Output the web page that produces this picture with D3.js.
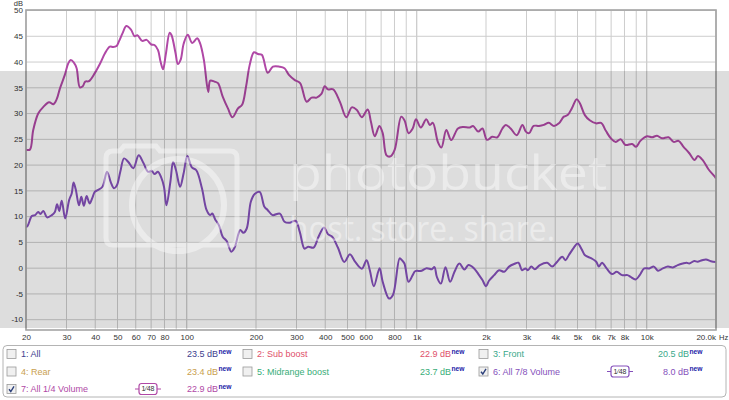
<!DOCTYPE html>
<html>
<head>
<meta charset="utf-8">
<script src="https://cdn.jsdelivr.net/npm/d3@7"></script>
<style>
body { margin: 0; background: #fff; }
svg { display: block; font-family: "Liberation Sans", Arial, sans-serif; }
</style>
</head>
<body>
<div class="viz"></div>
<script>
const width = 729;
const height = 400;

// curve 7: All 1/4 Volume  [Hz, dB]
const vol14 = [[20,23],[20.8,23],[21.5,26.8],[22.6,30],[23.8,31.3],[25.2,32.2],[26.3,31.8],[27.2,32.8],[28.1,34.9],[29.5,37.5],[30.5,39.7],[31.3,40.4],[32.3,39.9],[33.2,38.8],[34.3,35.1],[35.3,35.3],[36.2,36.2],[37.6,36.3],[39.9,37.9],[42,39.7],[44.1,41.7],[46.3,43],[47.9,42.9],[49.5,43.1],[50.7,44],[52.6,45.6],[54.6,47],[57.2,46.3],[59.3,45],[61,45.2],[64,44.1],[66.9,44.3],[70.1,43.4],[72.4,43.3],[75,42.3],[76.9,40.1],[78.9,38.6],[81,41.4],[84.3,45.7],[85.9,45.2],[89.4,41.7],[91.5,39.6],[94,40.4],[97,43.6],[101,45.3],[105.6,43.7],[111,44.6],[114.3,43.6],[118.7,40.4],[124,34.2],[126.5,36.4],[132,36.2],[136.7,35.9],[143.3,33.3],[151,31],[158,29.3],[167,31],[174,31.7],[181,35.2],[187.7,39.4],[196,41.9],[204,41.55],[212,41.4],[225,37.9],[237,39.1],[253,39.1],[266,38.8],[278,37.5],[295,36.5],[311,35.9],[332,32.3],[349,33.1],[367,33.1],[385,33.8],[398,35.3],[411,34.7],[433,34.7],[463,32.3],[494,29.3],[522,31.2],[549,30.7],[577,29.3],[612,30.8],[632,28.4],[657,25.6],[688,27.6],[711,26.2],[739,21.9],[769,21.7],[802,23],[856,29.4],[884,28.7],[922,26.2],[960,27.1],[992,28.9],[1042,27.3],[1100,28.9],[1140,27.8],[1175,28.2],[1235,24.5],[1280,23.4],[1344,26.8],[1412,24.85],[1510,27.1],[1590,27.4],[1700,27.3],[1757,27.6],[1850,26.5],[1930,27.1],[2020,24.9],[2128,25.5],[2240,25.4],[2357,27.1],[2440,27.8],[2560,27.1],[2720,25.8],[2880,27.8],[2980,26.5],[3080,26.2],[3220,27.6],[3400,27.6],[3570,27.8],[3750,28.2],[3950,27.6],[4150,28.1],[4360,29.4],[4530,29.7],[4720,31],[4960,32.8],[5120,32],[5380,29.7],[5650,28.7],[6020,28.1],[6330,28.2],[6650,26.6],[6980,25.2],[7330,24.5],[7700,25],[8080,23.9],[8630,24.1],[8980,23.55],[9380,24.7],[10030,25.6],[10540,25.4],[11080,25.7],[11640,25.2],[12440,25.4],[13080,24.5],[13750,24.7],[14450,23.55],[15310,22.3],[16150,21],[16690,21.75],[17480,21],[18540,19.2],[19800,17.7],[20000,17.4]];

// curve 6: All 7/8 Volume  [Hz, dB]
const vol78 = [[20,8],[20.3,8.15],[21.2,10.1],[21.9,10.3],[22.6,10.9],[23.1,10.5],[23.8,11.1],[24.7,9.85],[25.9,10.3],[26.7,10.9],[27.3,12.4],[27.9,11.1],[28.6,13.1],[29.6,9.65],[30.8,13.2],[31.6,14.5],[32.2,16.6],[32.9,15.3],[34,12.2],[34.8,13.85],[35.7,12.1],[36.7,14],[37.8,12.55],[38.9,13.7],[39.8,14.8],[41,15.15],[43,15.8],[45,18.7],[46.8,16.6],[48.3,15.5],[49.7,16.1],[51.4,18.7],[53.4,21.3],[55.7,20.6],[58.6,19.4],[61.8,21.9],[64.8,20.4],[67.9,18.7],[70.4,18.9],[72.4,18.25],[74.9,18.7],[77.4,17.6],[79.6,15.8],[81.6,12.2],[84.9,16.8],[87.2,20.6],[89.8,19],[93.5,15.8],[96.9,18.4],[100.6,21.75],[105.3,19.55],[110,19],[116.4,15.5],[121.9,11.3],[126.3,10.3],[129.1,10.6],[132.9,9.45],[137.9,8.35],[143.3,6.1],[149,5.3],[156.2,3.2],[161.5,4],[170.8,7.4],[176.2,6.85],[182.3,7.7],[189.9,12.9],[197.4,14.4],[207.4,14.8],[217.6,11.9],[224.6,11.3],[236,10.3],[254,10.6],[266,9],[280,8.8],[297,9.2],[310,7.05],[325,3.8],[337,4.15],[356,4],[374,6.1],[395,7.9],[411,6.6],[429,6.1],[454,4],[484,1.2],[512,2.7],[540,1.2],[577,-0.1],[605,1.55],[625,-0.4],[651,-3.5],[689,0],[711,-2.65],[758,-5.9],[788,-5.2],[843,1.9],[862,1.55],[884,0.9],[921,-2.65],[960,-1.35],[983,-0.6],[1050,-0.5],[1104,0],[1164,-0.2],[1194,0.2],[1223,-1.7],[1273,-3],[1333,0.2],[1397,-2.65],[1459,-0.7],[1532,0.9],[1610,-0.25],[1679,0.6],[1776,-0.05],[1866,-1.35],[1930,-2.3],[2000,-3.5],[2060,-2.45],[2170,-1.35],[2280,-0.4],[2400,-0.7],[2520,0.3],[2650,0.8],[2770,1.05],[2870,-0.4],[2970,-0.05],[3040,-0.4],[3150,0.3],[3260,-0.2],[3430,0.6],[3690,1.05],[3880,0.3],[4080,1.25],[4290,2.2],[4430,1.55],[4580,2.5],[4820,4],[5010,4.8],[5220,3.6],[5390,2.5],[5750,1.9],[6030,1.25],[6190,0.3],[6390,1.05],[6690,-0.05],[7070,-1.15],[7400,-0.7],[7810,-1.35],[8250,-1.35],[8510,-1.7],[8940,-2.2],[9320,-1.35],[9750,-0.05],[10260,-0.05],[10740,0.3],[11190,-0.5],[11750,-0.05],[12350,0.3],[12980,0.15],[13640,0.6],[14330,0.9],[14900,1.05],[15310,0.9],[16090,1.4],[16630,1.25],[17380,1.55],[18100,1.7],[19000,1.35],[20000,1.2]];

// axis ticks
const yTicks = [-10, -5, 0, 5, 10, 15, 20, 25, 30, 35, 40, 45, 50];
const xTickValues = [20, 30, 40, 50, 60, 70, 80, 100, 200, 300, 400, 500, 600, 800, 1000, 2000, 3000, 4000, 5000, 6000, 7000, 8000, 10000, 20000];
const xTickLabels = ["20", "30", "40", "50", "60", "70", "80", "100", "200", "300", "400", "500", "600", "800", "1k", "2k", "3k", "4k", "5k", "6k", "7k", "8k", "10k", "20.0k"];

// legend
const seriesNames = ["1: All", "2: Sub boost", "3: Front", "4: Rear", "5: Midrange boost", "6: All 7/8 Volume", "7: All 1/4 Volume"];
const seriesValues = ["23.5", "22.9", "20.5", "23.4", "23.7", "8.0", "22.9"];
const seriesChecked = [false, false, false, false, false, true, true];
const seriesColors = ["#3e3e8e", "#e0506a", "#3aa88a", "#c9a04e", "#38ad78", "#8550bb", "#b048a6"];

const svg = d3.select(".viz")
    .append("svg")
    .attr("width", width)
    .attr("height", height);

const x = d3.scaleLog().domain([20, 20000]).range([26, 716]);
const y = d3.scaleLinear().domain([-12, 50]).range([330, 10.5]);

// plot background
svg.append("rect")
    .attr("x", 26).attr("y", 10)
    .attr("width", 690).attr("height", 320)
    .attr("fill", "#fff");

// grid
const gridFreqs = [];
[10, 100, 1000, 10000].forEach(dec => {
    for (let k = 1; k <= 9; k++) {
        const f = k * dec;
        if (f >= 20 && f <= 20000) gridFreqs.push(f);
    }
});
gridFreqs.push(20000);

svg.append("g").selectAll("line")
    .data(gridFreqs)
    .enter().append("line")
    .attr("x1", d => x(d)).attr("x2", d => x(d))
    .attr("y1", 10).attr("y2", 330)
    .attr("stroke", d => [100, 1000, 10000].includes(d) ? "#bdbdbd" : "#cdcdcd")
    .attr("stroke-width", 1);

svg.append("g").selectAll("line")
    .data(yTicks)
    .enter().append("line")
    .attr("x1", 26).attr("x2", 716)
    .attr("y1", d => y(d)).attr("y2", d => y(d))
    .attr("stroke", "#cdcdcd")
    .attr("stroke-width", 1);

// curves
svg.append("clipPath").attr("id", "plotclip")
    .append("rect").attr("x", 26).attr("y", 10).attr("width", 690).attr("height", 320);

const line = d3.line()
    .x(d => x(d[0]))
    .y(d => y(d[1]))
    .curve(d3.curveCatmullRom.alpha(0.5));

const curves = [
    { data: vol78, color: seriesColors[5] },
    { data: vol14, color: seriesColors[6] }
];

svg.append("g").attr("clip-path", "url(#plotclip)")
    .selectAll("path")
    .data(curves)
    .enter().append("path")
    .attr("d", d => line(d.data))
    .attr("fill", "none")
    .attr("stroke", d => d.color)
    .attr("stroke-width", 2)
    .attr("stroke-linejoin", "round");

// plot frame
svg.append("rect")
    .attr("x", 26).attr("y", 10)
    .attr("width", 690).attr("height", 320)
    .attr("fill", "none")
    .attr("stroke", "#a4a4a4")
    .attr("stroke-width", 1.6);

// axis labels
svg.append("g").selectAll("text")
    .data(yTicks)
    .enter().append("text")
    .attr("x", 23)
    .attr("y", d => y(d))
    .attr("dy", "0.35em")
    .attr("text-anchor", "end")
    .style("font-size", "8px")
    .style("fill", "#333")
    .text(d => d);

svg.append("text")
    .attr("x", 23).attr("y", 6.2)
    .attr("text-anchor", "end")
    .style("font-size", "7.5px")
    .style("fill", "#333")
    .text("dB");

svg.append("g").selectAll("text")
    .data(xTickValues)
    .enter().append("text")
    .attr("x", (d, i) => i === xTickValues.length - 1 ? x(d) : x(d) + 0.5)
    .attr("y", 340)
    .attr("text-anchor", (d, i) => i === xTickValues.length - 1 ? "end" : "middle")
    .style("font-size", "8px")
    .style("fill", "#333")
    .text((d, i) => xTickLabels[i]);

svg.append("text")
    .attr("x", 719).attr("y", 340)
    .style("font-size", "7.5px")
    .style("fill", "#333")
    .text("Hz");

// photobucket watermark band
svg.append("rect")
    .attr("x", 0).attr("y", 71)
    .attr("width", width).attr("height", 257)
    .attr("fill", "#000")
    .attr("opacity", 0.135);

const wm = svg.append("g")
    .attr("fill", "none")
    .attr("stroke", "#fff")
    .attr("opacity", 0.42);

wm.append("path")
    .attr("d", "M106,158 Q106,151 113,151 L120,151 L124,146 L156,146 L160,151 L230,151 Q237,151 237,158 L237,238 Q237,245 230,245 L113,245 Q106,245 106,238 Z")
    .attr("stroke-width", 5);
wm.append("circle")
    .attr("cx", 178).attr("cy", 205).attr("r", 46)
    .attr("stroke-width", 6);

svg.append("text")
    .attr("x", 289).attr("y", 190)
    .attr("textLength", 318)
    .attr("lengthAdjust", "spacingAndGlyphs")
    .style("font-family", "'Open Sans', sans-serif")
    .style("font-size", "48px")
    .style("fill", "#fff")
    .style("opacity", 0.42)
    .text("photobucket");

svg.append("text")
    .attr("x", 289).attr("y", 241)
    .attr("textLength", 266)
    .attr("lengthAdjust", "spacingAndGlyphs")
    .style("font-family", "'Open Sans', sans-serif")
    .style("font-size", "34px")
    .style("fill", "#fff")
    .style("opacity", 0.42)
    .text("host. store. share.");

// legend
svg.append("rect")
    .attr("x", 3).attr("y", 345.5)
    .attr("width", 723).attr("height", 51.5)
    .attr("rx", 4)
    .attr("fill", "#fff")
    .attr("stroke", "#b4b4b4");

const colX = [7, 243, 479];
const valueEnd = [218, 451, 689];
const rowY = [354, 371.5, 389];

const items = svg.append("g").selectAll("g")
    .data(seriesNames)
    .enter().append("g")
    .attr("transform", (d, i) => `translate(${colX[i % 3]},${rowY[Math.floor(i / 3)]})`);

items.append("rect")
    .attr("x", 0)
    .attr("y", -4.5)
    .attr("width", 9).attr("height", 9)
    .attr("fill", "#f0f0f0")
    .attr("stroke", "#9a9a9a")
    .attr("stroke-width", 0.8);

items.filter((d, i) => seriesChecked[i])
    .append("path")
    .attr("d", "M2,0.3 L3.8,2.5 L7,-2.6")
    .attr("fill", "none")
    .attr("stroke", "#2b3f7a")
    .attr("stroke-width", 1.4);

items.append("text")
    .attr("x", 14)
    .attr("dy", "0.35em")
    .style("font-size", "9px")
    .style("fill", (d, i) => seriesColors[i])
    .text(d => d);

items.append("text")
    .attr("x", (d, i) => valueEnd[i % 3] - colX[i % 3])
    .attr("dy", "0.35em")
    .attr("text-anchor", "end")
    .style("font-size", "9px")
    .style("fill", (d, i) => seriesColors[i])
    .text((d, i) => seriesValues[i] + " dB");

items.append("text")
    .attr("x", (d, i) => valueEnd[i % 3] - colX[i % 3] + 0.5)
    .attr("y", -0.5)
    .attr("textLength", 13)
    .attr("lengthAdjust", "spacingAndGlyphs")
    .style("font-size", "8px")
    .style("font-weight", "bold")
    .style("fill", "#1c1ca8")
    .text("new");

// smoothing icons on visible curves
const icons = items.filter((d, i) => seriesChecked[i])
    .append("g")
    .attr("transform", "translate(141,0)")
    .style("color", d => seriesColors[seriesNames.indexOf(d)]);

icons.append("line")
    .attr("x1", -13).attr("x2", 13)
    .attr("stroke", "currentColor").attr("stroke-width", 1);
icons.append("rect")
    .attr("x", -9).attr("y", -5.5)
    .attr("width", 18).attr("height", 11)
    .attr("rx", 2.5)
    .attr("fill", "#fff")
    .attr("stroke", "currentColor").attr("stroke-width", 1.2);
icons.append("text")
    .attr("x", 0).attr("dy", "0.35em")
    .attr("text-anchor", "middle")
    .style("font-size", "7px")
    .style("fill", "#333")
    .text("1⁄48");
</script>
</body>
</html>
